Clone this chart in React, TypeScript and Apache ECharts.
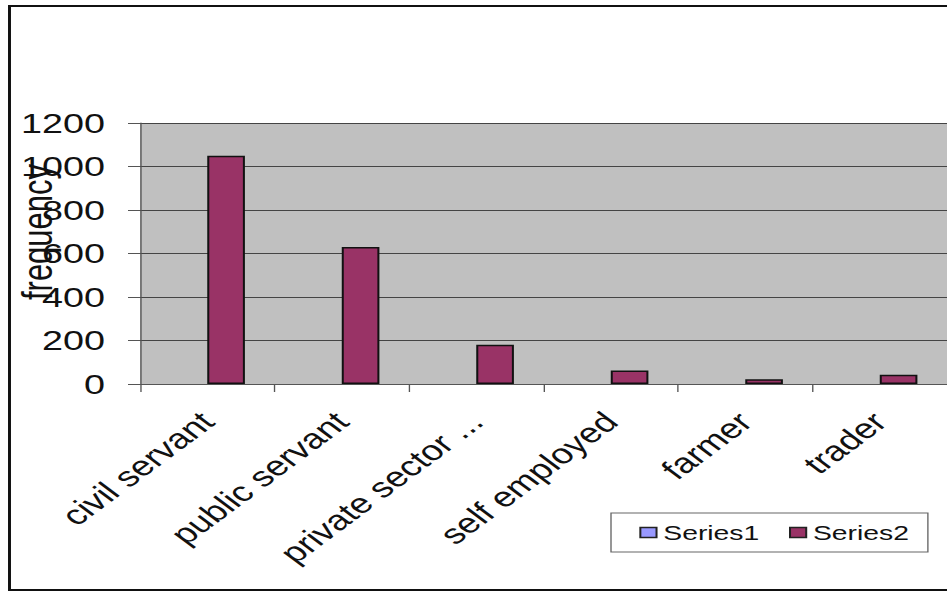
import React, { useEffect, useRef } from "react";
import * as echarts from "echarts";

const categories = ["civil servant", "public servant", "private sector ...", "self employed", "farmer", "trader"];
const series1Values = [0, 0, 0, 0, 0, 0];
const series2Values = [1050, 630, 180, 62, 22, 43];
const yTicks = { min: 0, max: 1200, interval: 200 };

const OUT_W = 947;
const OUT_H = 592;
const IN_W = 702;
const S = OUT_W / IN_W;
const px = (x: number) => x / S;
const FONT = "'Liberation Sans', Arial, Helvetica, sans-serif";

export default function App() {
  const ref = useRef<HTMLDivElement>(null);
  useEffect(() => {
    if (!ref.current) return;
    const chart = echarts.init(ref.current, null, { renderer: "svg" });
    chart.setOption({
      animation: false,
      backgroundColor: "#ffffff",
      textStyle: { fontFamily: FONT },
      grid: { left: px(140), top: 123, width: px(809), height: 261, containLabel: false },
      legend: {
        left: px(611),
        top: 513,
        orient: "horizontal",
        icon: "rect",
        itemWidth: 12,
        itemHeight: 10,
        itemGap: 22,
        padding: [8.5, 14, 8.5, 21],
        borderColor: "#666",
        borderWidth: 1,
        backgroundColor: "#fff",
        textStyle: { fontSize: 21, color: "#111", fontFamily: FONT, lineHeight: 22 },
        data: [
          { name: "Series1", itemStyle: { color: "#9999FF", borderColor: "#222", borderWidth: 1.5 } },
          { name: "Series2", itemStyle: { color: "#993366", borderColor: "#222", borderWidth: 1.5 } },
        ],
      },
      xAxis: {
        type: "category",
        data: categories,
        axisLine: { show: true, lineStyle: { color: "#555", width: 1 } },
        axisTick: { show: true, length: 8, lineStyle: { color: "#555" } },
        axisLabel: {
          interval: 0,
          rotate: 45,
          margin: 33,
          fontSize: 28,
          color: "#111",
          fontFamily: FONT,
        },
        splitLine: { show: false },
      },
      yAxis: {
        type: "value",
        min: yTicks.min,
        max: yTicks.max,
        interval: yTicks.interval,
        axisLine: { show: true, lineStyle: { color: "#555", width: 1 } },
        axisTick: { show: true, length: px(12), lineStyle: { color: "#555" } },
        axisLabel: {
          margin: px(35),
          fontSize: 28,
          color: "#111",
          fontFamily: FONT,
          formatter: (v: number) => String(v),
        },
        splitLine: { show: true, lineStyle: { color: "#444", width: 1 } },
        splitArea: { show: true, areaStyle: { color: ["#C0C0C0", "#C0C0C0"] } },
      },
      series: [
        {
          name: "Series1",
          type: "bar",
          data: series1Values,
          barGap: "0%",
          barCategoryGap: "44%",
          itemStyle: { color: "#9999FF", borderWidth: 0 },
        },
        {
          name: "Series2",
          type: "bar",
          data: series2Values,
          barGap: "0%",
          barCategoryGap: "44%",
          itemStyle: { color: "#993366", borderColor: "#111", borderWidth: 1.5 },
        },
      ],
      graphic: [
        {
          type: "rect",
          silent: true,
          z: 100,
          shape: { x: px(9.5), y: 6, width: 900, height: 584 },
          style: { fill: "none", stroke: "#111", lineWidth: 2.2 },
        },
        {
          type: "text",
          silent: true,
          z: 100,
          x: px(38),
          y: 232,
          rotation: Math.PI / 2,
          style: {
            text: "frequency",
            fontSize: 31,
            fontFamily: FONT,
            fill: "#111",
            align: "center",
            verticalAlign: "middle",
          },
        },
      ],
    });
    return () => chart.dispose();
  }, []);
  return (
    <div style={{ position: "fixed", left: 0, top: 0, width: OUT_W, height: OUT_H, overflow: "hidden", background: "#fff" }}>
      <div
        ref={ref}
        style={{ width: IN_W, height: OUT_H, transform: `scaleX(${S})`, transformOrigin: "0 0" }}
      />
    </div>
  );
}
